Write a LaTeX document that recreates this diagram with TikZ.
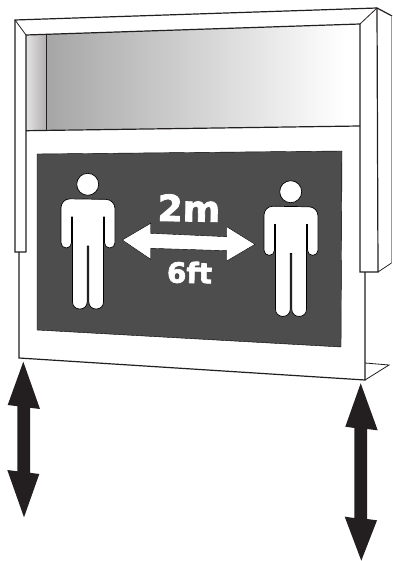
\documentclass[tikz,border=0pt]{standalone}
\usepackage{fontspec}
\setmainfont{DejaVu Sans}
\newfontfamily\signfont[FakeBold=2.2]{DejaVu Sans Bold}
\definecolor{ink}{HTML}{231F20}
\definecolor{panel}{HTML}{4D4D4D}
\tikzset{
  edge/.style={draw=ink,line width=1.2pt,line join=miter},
  thinedge/.style={draw=ink,line width=.8pt},
  bigarrow/.style={fill=ink,draw=none},
  figure/.style={fill=white,draw=black,line width=.7pt},
  person/.pic={
    \path[figure] (87.7,184.3) circle[radius=11];
    \path[figure] (71.5,217) [rounded corners=5.2pt] -- (71.5,248) -- (61,248)
      [rounded corners=9pt] -- (61,198.7) -- (115,199.5)
      [rounded corners=5.2pt] -- (115,248) -- (104.5,248) [sharp corners] -- (104.5,217) -- (103.5,217)
      [rounded corners=7pt] -- (103.5,309) -- (88.8,309) [sharp corners] -- (88.8,246) -- (87.2,246)
      [rounded corners=7pt] -- (87.2,309) -- (72.5,309) [sharp corners] -- (72.5,217) -- cycle;
  }
}
\begin{document}
\begin{tikzpicture}[x=1pt,y=-1pt]
\useasboundingbox[fill=white] (0,0) rectangle (392,561);
% window gradients
\begin{scope}
  \clip (26,35) -- (46.5,34.3) -- (46.5,130) -- (26,130.7) -- cycle;
  \shade[left color=ink!12,right color=ink!36] (26,30) rectangle (46.5,135);
\end{scope}
\begin{scope}
  \clip (46.5,34.3) -- (360,24) -- (360,126) -- (46.5,130) -- cycle;
  \shade[left color=black!35!white,middle color=black!11,right color=white] (46.5,20) rectangle (345,135);
  \fill[white] (345,20) rectangle (361,135);
\end{scope}
% frame
\draw[edge] (26,252) -- (15,252) -- (15,20) -- (377,8) -- (392,16);
\draw[edge] (26,252) -- (26,35) -- (360,24) -- (360,272) -- (378,272) -- (377,8);
\draw[thinedge] (15,20) -- (26,35);
\draw[thinedge] (360,24) -- (377,8);
\draw[draw=black!40,line width=.8pt] (391,16) -- (391,263);
\draw[thinedge] (378,272) -- (391.5,263);
\draw[edge] (46.5,34.3) -- (46.5,130);
\draw[edge] (26,130.7) -- (360,126);
% body
\draw[edge] (19,252) -- (19,358) -- (365,380) -- (365,272);
\draw[thinedge] (365,380) -- (389,365) -- (365,363);
% sign
\fill[panel,draw=black,line width=.4pt] (37,154) -- (342,151) -- (341,347) -- (37,330) -- cycle;
\pic at (0,0) {person};
\pic at (203,7.4) {person};
\fill[white,draw=black,line width=.4pt] (122.3,240) -- (150.7,223.3) -- (150.7,233.3) -- (226.7,236.7) -- (226.7,226.7)
  -- (255,244.3) -- (226.7,261) -- (226.7,250.7) -- (150.7,248.3) -- (150.7,259.3) -- cycle;
\node[text=white,font=\signfont\fontsize{36}{36}\selectfont,inner sep=0pt,rotate=-1] (metres) at (189,208) {2m};
\node[text=white,font=\signfont\fontsize{28}{28}\selectfont,inner sep=0pt,rotate=-1] (feet) at (189.5,272.5) {6ft};
% height arrows
\fill[bigarrow] (23.3,361.7) -- (40,409) -- (30,407.8) -- (30,472.8) -- (39.3,474) -- (24,517.3) -- (7.3,470)
  -- (17.3,471.3) -- (17.3,406.2) -- (7.7,405) -- cycle;
\fill[bigarrow] (360.7,383.3) -- (377.7,430.3) -- (367,429) -- (367,519) -- (377,520.3) -- (361.3,560.7) -- (344.7,516.7)
  -- (354.3,518) -- (354.3,428) -- (345.3,426.7) -- cycle;
\end{tikzpicture}
\end{document}
